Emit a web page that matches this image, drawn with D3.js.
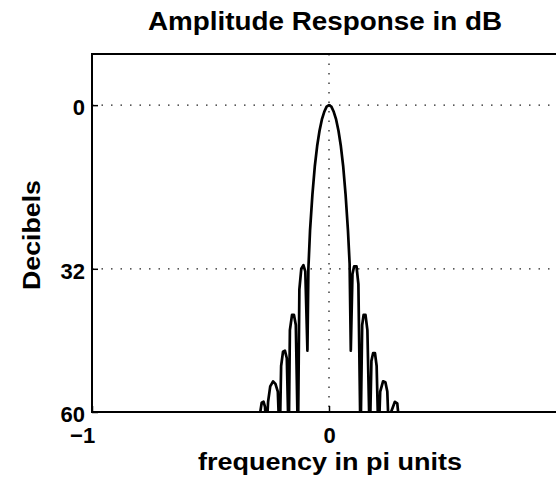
<!DOCTYPE html>
<html>
<head>
<meta charset="utf-8">
<script src="https://cdn.jsdelivr.net/npm/d3@7"></script>
<style>
  body { margin: 0; background: #fff; }
  svg { display: block; font-family: "Liberation Sans", Arial, sans-serif; }
  .grid { stroke: #222; stroke-width: 1.3; stroke-dasharray: 1.5 8; }
  .curve { fill: none; stroke: #000; stroke-width: 2.7; stroke-linejoin: round; }
  .frame { fill: none; stroke: #000; stroke-width: 2; }
  .tick line { stroke: #000; stroke-width: 1.5; }
  .tick text { font-size: 22px; font-weight: bold; fill: #000; }
  .domain { display: none; }
</style>
</head>
<body>
<div id="chart"></div>
<script>
// Chart dimensions and margins
const width = 556;
const height = 485;
const margin = { top: 54, right: -10, bottom: 73, left: 92 };

// Data: frequency (pi units) and amplitude (dB)
const freq = [-1.000, -0.305, -0.290, -0.284, -0.276, -0.270, -0.264,
  -0.257, -0.248, -0.236, -0.226, -0.216, -0.208,
  -0.202, -0.194, -0.186, -0.178, -0.170,
  -0.165, -0.156, -0.148, -0.140, -0.131,
  -0.125, -0.117, -0.108, -0.100, -0.091,
  -0.087, -0.080, -0.070, -0.060, -0.050, -0.040, -0.030, -0.020, -0.010,
  0.000, 0.010, 0.020, 0.030, 0.040, 0.050, 0.060, 0.070, 0.080,
  0.087, 0.092, 0.099, 0.106, 0.116, 0.124, 0.133,
  0.140, 0.146, 0.154, 0.162, 0.172,
  0.179, 0.186, 0.194, 0.201, 0.209,
  0.216, 0.228, 0.238, 0.246, 0.254,
  0.262, 0.278, 0.288, 0.296, 0.306, 1.000];
const dB = [-70, -70, -60, -58.2, -58, -59, -64,
  -58, -55, -54, -54.5, -56, -66,
  -51, -48.2, -48, -49.5, -66,
  -44, -41, -41, -43, -66,
  -36, -32, -31.3, -32.5, -48,
  -32, -24.5, -17.5, -12, -8, -5, -2.8, -1.3, -0.3,
  0, -0.3, -1.3, -2.8, -5, -8, -12, -17.5, -24.5,
  -31, -48, -33, -31.5, -31.5, -35, -66,
  -43, -41, -41, -44, -66,
  -50, -48.5, -48.5, -51, -66,
  -56, -54, -54.2, -56, -66,
  -60, -58, -58.3, -62, -70, -70];

const yTicks = [0, -32, -60];
const yTickLabels = ['0', '32', '60'];
const xTicks = [-1, 0];
const xTickLabels = ['\u22121', '0'];
const gridY = [0, -32];
const gridX = [0];

const titleText = 'Amplitude Response in dB';
const xLabelText = 'frequency in pi units';
const yLabelText = 'Decibels';

const data = freq.map((f, i) => ({ f: f, v: dB[i] }));

const svg = d3.select('#chart').append('svg').attr('width', width).attr('height', height);

const innerW = width - margin.left - margin.right;
const innerH = height - margin.top - margin.bottom;

const x = d3.scaleLinear().domain([-1, 1]).range([0, innerW]);
const y = d3.scaleLinear().domain([-60, 10]).range([innerH, 0]);

const plot = svg.append('g').attr('transform', `translate(${margin.left},${margin.top})`);

svg.append('defs').append('clipPath').attr('id', 'clip')
  .append('rect').attr('width', innerW).attr('height', innerH);

// dotted grid
plot.append('g').selectAll('line.gy').data(gridY).enter().append('line')
  .attr('class', 'grid').attr('x1', 0).attr('x2', innerW)
  .attr('y1', d => y(d)).attr('y2', d => y(d));
plot.append('g').selectAll('line.gx').data(gridX).enter().append('line')
  .attr('class', 'grid').attr('y1', 0).attr('y2', innerH)
  .attr('x1', d => x(d)).attr('x2', d => x(d));

// amplitude curve
plot.append('path').datum(data)
  .attr('class', 'curve')
  .attr('clip-path', 'url(#clip)')
  .attr('d', d3.line().x(d => x(d.f)).y(d => y(d.v)));

// axes, ticks pointing inward
const yAxis = d3.axisLeft(y).tickValues(yTicks).tickSize(-6).tickPadding(7)
  .tickFormat((d, i) => yTickLabels[i]);
const xAxis = d3.axisBottom(x).tickValues(xTicks).tickSize(-6).tickPadding(15)
  .tickFormat((d, i) => xTickLabels[i]);

plot.append('g').call(yAxis)
  .selectAll('text').attr('dy', '0.42em');
plot.append('g').attr('transform', `translate(0,${innerH})`).call(xAxis)
  .selectAll('text').attr('dx', d => d < 0 ? '-0.45em' : 0);

// frame
plot.append('rect').attr('class', 'frame').attr('width', innerW).attr('height', innerH);

// titles
svg.append('text').text(titleText)
  .attr('x', 325).attr('y', 30)
  .attr('text-anchor', 'middle')
  .attr('font-size', 26).attr('font-weight', 'bold')
  .attr('textLength', 354).attr('lengthAdjust', 'spacingAndGlyphs');

svg.append('text').text(xLabelText)
  .attr('x', 330).attr('y', 470)
  .attr('text-anchor', 'middle')
  .attr('font-size', 23).attr('font-weight', 'bold')
  .attr('textLength', 264).attr('lengthAdjust', 'spacingAndGlyphs');

svg.append('text').text(yLabelText)
  .attr('transform', 'translate(40,235) rotate(-90)')
  .attr('text-anchor', 'middle')
  .attr('font-size', 23).attr('font-weight', 'bold')
  .attr('textLength', 110).attr('lengthAdjust', 'spacingAndGlyphs');
</script>
</body>
</html>
